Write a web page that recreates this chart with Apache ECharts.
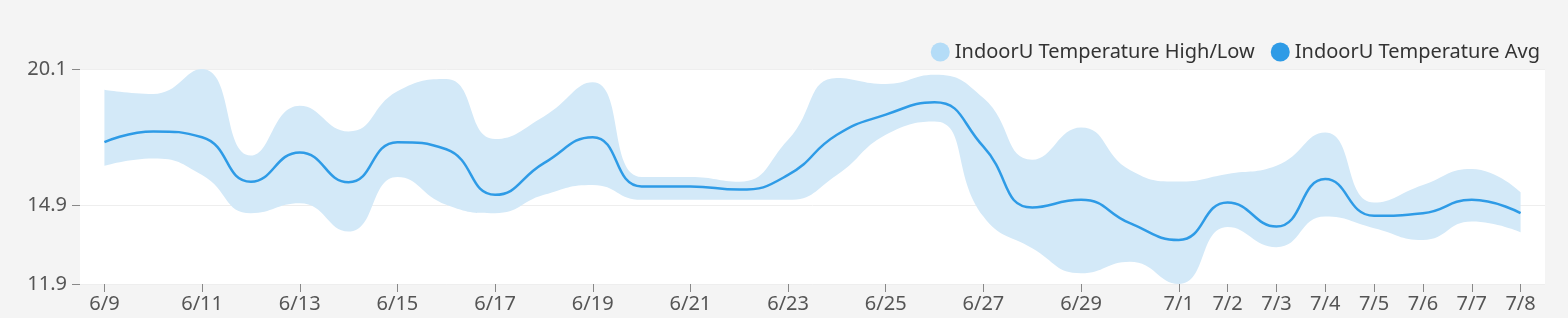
<!DOCTYPE html>
<html>
<head>
<meta charset="utf-8">
<script src="https://cdn.jsdelivr.net/npm/echarts@6/dist/echarts.min.js"></script>
<style>
html,body{margin:0;padding:0;background:#f4f4f4;}
#chart{width:1568px;height:318px;}
</style>
</head>
<body>
<div id="chart"></div>
<script>
const categories = ['6/9','6/10','6/11','6/12','6/13','6/14','6/15','6/16','6/17','6/18','6/19','6/20','6/21','6/22','6/23','6/24','6/25','6/26','6/27','6/28','6/29','6/30','7/1','7/2','7/3','7/4','7/5','7/6','7/7','7/8'];
const highValues = [19.31,19.15,20.1,16.8,18.7,17.72,19.25,19.72,17.43,18.29,19.59,15.98,15.98,15.8,17.4,19.76,19.53,19.88,18.99,16.64,17.87,16.25,15.81,16.1,16.41,17.68,15.01,15.68,16.29,15.4];
const lowValues = [16.41,16.69,16.06,14.6,14.98,13.9,15.98,14.92,14.6,15.3,15.68,15.11,15.11,15.11,15.11,16.06,17.59,18.1,14.47,13.26,12.31,12.75,11.9,14.07,13.3,14.47,14.03,13.58,14.28,13.87];
const avgValues = [17.31,17.72,17.5,15.8,16.92,15.78,17.31,17.04,15.3,16.51,17.5,15.62,15.62,15.5,16.06,17.59,18.36,18.83,17.14,14.82,15.11,14.22,13.58,15.01,14.09,15.9,14.5,14.6,15.11,14.6];
const yTicks = [11.9, 14.9, 20.1];
const seriesNames = ['IndoorU Temperature High/Low', 'IndoorU Temperature Avg'];

const bandDiff = highValues.map((h, i) => +(h - lowValues[i]).toFixed(2));
const showLabel = (i) => (i <= 20 && i % 2 === 0) || i >= 22;
const font = "'Noto Sans', sans-serif";

const chart = echarts.init(document.getElementById('chart'));
chart.setOption({
  backgroundColor: '#f4f4f4',
  animation: false,
  legend: {
    data: seriesNames,
    right: 23,
    top: 37,
    icon: 'circle',
    itemWidth: 19,
    itemHeight: 19,
    itemGap: 16,
    textStyle: { color: '#333', fontSize: 20, fontFamily: font }
  },
  grid: {
    left: 80, right: 23, top: 69, bottom: 34,
    show: true, backgroundColor: '#ffffff', borderWidth: 0
  },
  xAxis: {
    type: 'category',
    data: categories,
    boundaryGap: true,
    axisLine: { show: false },
    axisTick: { show: true, alignWithLabel: true, interval: showLabel, length: 8, lineStyle: { color: '#888' } },
    axisLabel: { interval: showLabel, color: '#555', fontSize: 20, fontFamily: font, margin: 10 },
    splitLine: { show: false }
  },
  yAxis: {
    type: 'value',
    min: 11.9,
    max: 20.1,
    axisLine: { show: false },
    axisTick: { show: true, length: 8, customValues: yTicks, lineStyle: { color: '#888' } },
    axisLabel: { customValues: yTicks, color: '#555', fontSize: 20, fontFamily: font, margin: 13 },
    splitLine: { show: true, lineStyle: { color: '#eeeeee', width: 1 } }
  },
  series: [
    {
      name: 'low',
      type: 'line',
      data: lowValues,
      stack: 'band',
      smooth: true,
      showSymbol: false,
      lineStyle: { opacity: 0 },
      silent: true
    },
    {
      name: seriesNames[0],
      type: 'line',
      data: bandDiff,
      stack: 'band',
      smooth: true,
      showSymbol: false,
      color: '#b4dcf7',
      lineStyle: { opacity: 0 },
      areaStyle: { color: '#d3e9f8', opacity: 1 }
    },
    {
      name: seriesNames[1],
      type: 'line',
      data: avgValues,
      smooth: true,
      showSymbol: false,
      color: '#2e9be6',
      lineStyle: { width: 2.5, color: '#2e9be6' }
    }
  ]
});
</script>
</body>
</html>
